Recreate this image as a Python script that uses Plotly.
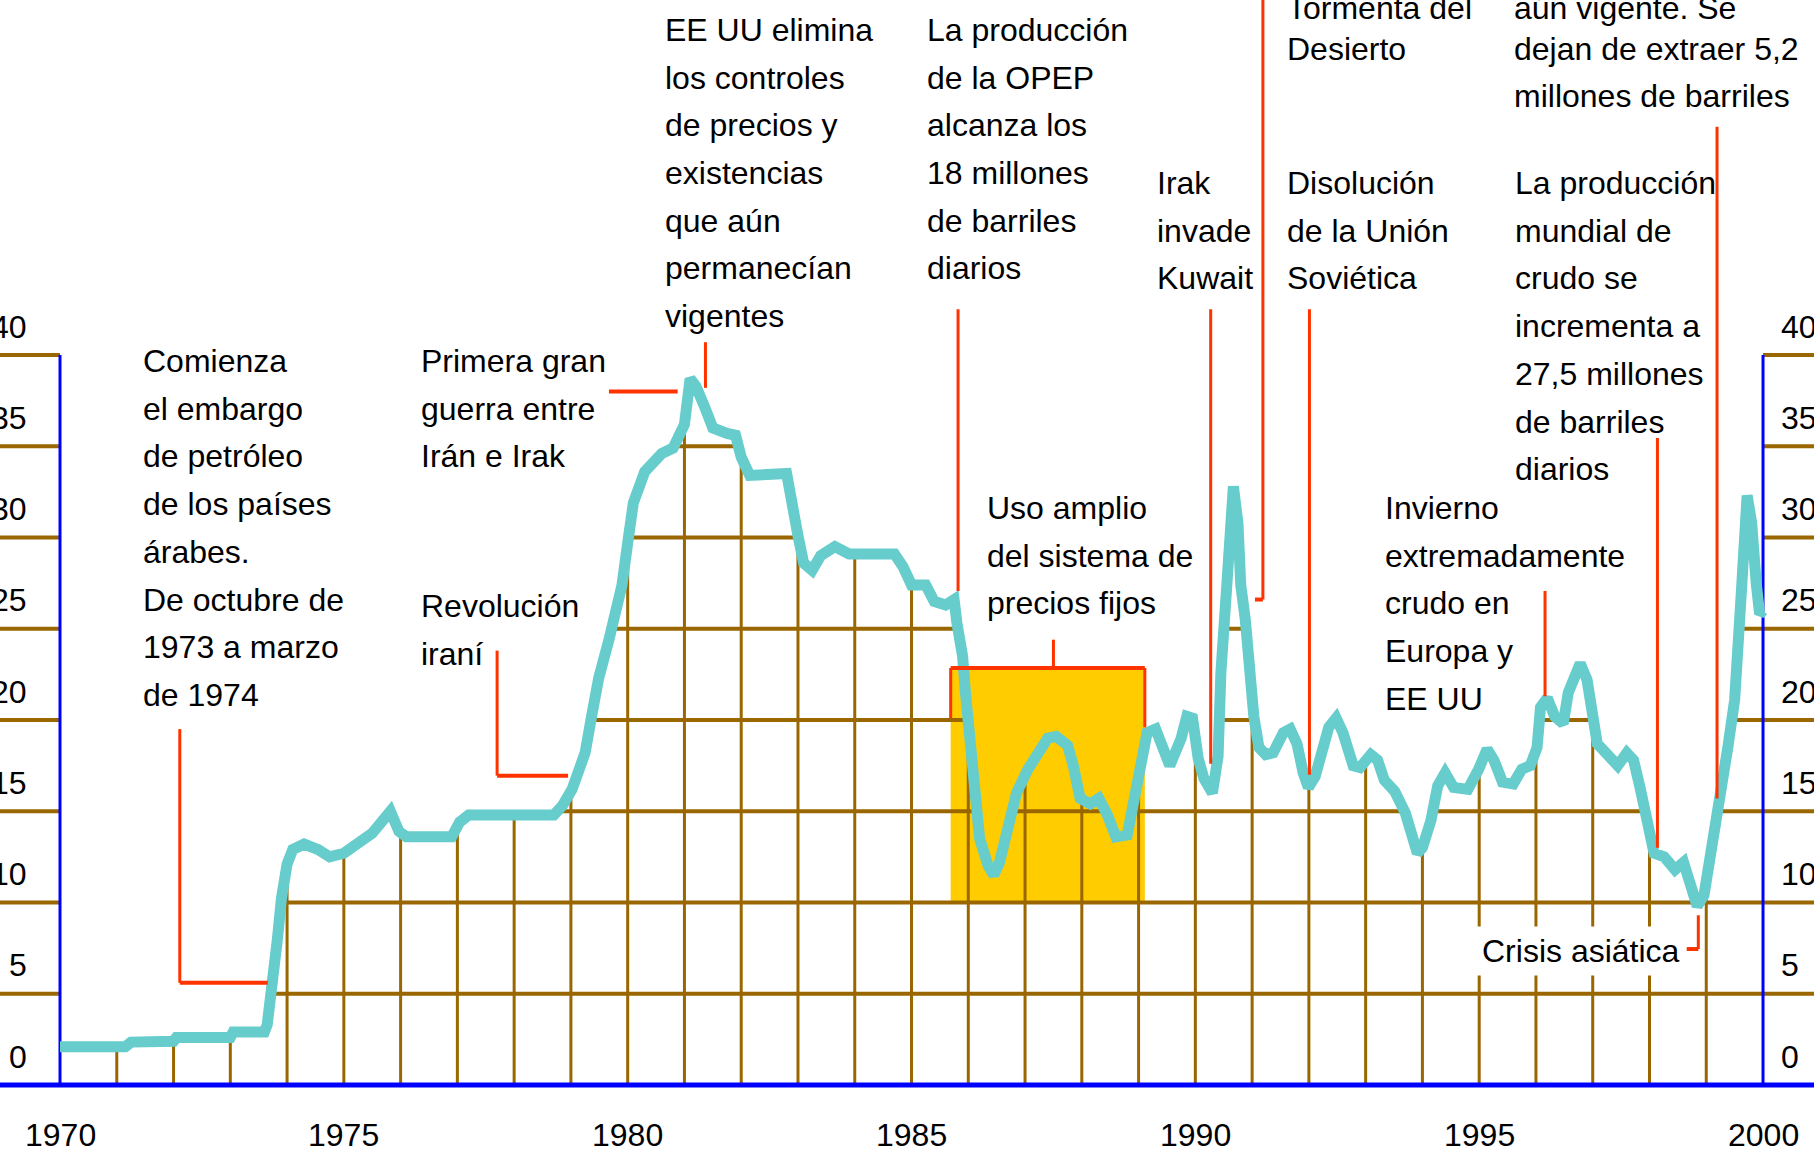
import numpy as np
import plotly.graph_objects as go

# ---------------- data ----------------
years = [1970.00, 1971.15, 1971.25, 1972.00, 1972.05, 1973.00, 1973.05, 1973.60, 1973.65, 1973.70,
         1973.75, 1973.83, 1973.90, 1974.00, 1974.10, 1974.30, 1974.55, 1974.75, 1975.00, 1975.26,
         1975.50, 1975.82, 1975.97, 1976.10, 1976.90, 1977.04, 1977.20, 1978.70, 1978.85, 1979.02,
         1979.25, 1979.37, 1979.49, 1979.67, 1979.90, 1980.00, 1980.10, 1980.30, 1980.60, 1980.80,
         1981.00, 1981.10, 1981.20, 1981.35, 1981.50, 1981.75, 1981.90, 1982.00, 1982.15, 1982.80,
         1982.90, 1983.00, 1983.10, 1983.25, 1983.40, 1983.65, 1983.90, 1984.70, 1984.85, 1985.00,
         1985.25, 1985.40, 1985.60, 1985.75, 1985.80, 1985.90, 1985.95, 1986.03, 1986.10, 1986.20,
         1986.35, 1986.45, 1986.55, 1986.70, 1986.85, 1987.05, 1987.20, 1987.40, 1987.55, 1987.75,
         1987.85, 1987.97, 1988.15, 1988.30, 1988.45, 1988.60, 1988.80, 1988.90, 1989.05, 1989.15,
         1989.30, 1989.45, 1989.55, 1989.75, 1989.85, 1989.95, 1990.05, 1990.15, 1990.30, 1990.40,
         1990.45, 1990.55, 1990.62, 1990.67, 1990.75, 1990.80, 1990.88, 1990.94, 1991.03, 1991.12,
         1991.24, 1991.37, 1991.55, 1991.67, 1991.79, 1991.90, 1991.99, 1992.11, 1992.23, 1992.35,
         1992.48, 1992.60, 1992.78, 1992.90, 1993.09, 1993.21, 1993.33, 1993.51, 1993.70, 1993.82,
         1993.91, 1994.00, 1994.15, 1994.27, 1994.40, 1994.55, 1994.80, 1994.99, 1995.14, 1995.26,
         1995.41, 1995.60, 1995.75, 1995.90, 1996.02, 1996.08, 1996.20, 1996.33, 1996.48, 1996.57,
         1996.69, 1996.78, 1996.90, 1997.00, 1997.08, 1997.23, 1997.44, 1997.60, 1997.72, 1997.84,
         1997.96, 1998.08, 1998.26, 1998.45, 1998.60, 1998.72, 1998.84, 1998.96, 1999.05, 1999.17,
         1999.26, 1999.38, 1999.50, 1999.56, 1999.62, 1999.72, 1999.80, 1999.88, 1999.94, 2000.00]
price = [2.1, 2.1, 2.35, 2.4, 2.6, 2.6, 2.9, 2.9, 3.3, 4.4,
         6.2, 8.0, 10.2, 12.1, 12.9, 13.2, 12.9, 12.5, 12.7, 13.2,
         13.8, 15.0, 13.9, 13.6, 13.6, 14.4, 14.8, 14.8, 15.3, 16.2,
         18.2, 20.3, 22.3, 24.4, 27.4, 29.7, 31.9, 33.6, 34.6, 34.9,
         36.2, 38.7, 38.3, 37.2, 36.0, 35.7, 35.6, 34.4, 33.4, 33.5,
         32.1, 30.1, 28.6, 28.2, 29.0, 29.5, 29.1, 29.1, 28.4, 27.4,
         27.4, 26.5, 26.3, 26.6, 25.3, 23.5, 21.5, 19.0, 16.0, 13.5,
         12.0, 11.5, 12.2, 14.0, 16.0, 17.3, 18.0, 19.0, 19.1, 18.6,
         17.5, 15.7, 15.4, 15.7, 14.8, 13.6, 13.7, 15.3, 17.9, 19.3,
         19.5, 18.0, 17.5, 19.0, 20.2, 20.1, 17.9, 16.8, 16.0, 18.0,
         22.6, 27.2, 31.9, 32.8, 30.8, 27.4, 25.5, 22.5, 20.2, 18.5,
         18.1, 18.2, 19.3, 19.5, 18.7, 17.1, 16.3, 16.9, 18.5, 19.6,
         20.1, 19.3, 17.5, 17.4, 18.1, 17.8, 16.7, 16.1, 14.9, 13.5,
         12.7, 13.0, 14.5, 16.4, 17.1, 16.3, 16.2, 17.3, 18.4, 17.8,
         16.6, 16.5, 17.3, 17.5, 18.5, 20.7, 21.2, 20.2, 19.8, 21.5,
         22.7, 23.1, 22.2, 20.5, 18.7, 18.2, 17.5, 18.2, 17.8, 16.2,
         14.4, 12.7, 12.5, 11.8, 12.2, 11.1, 9.8, 10.4, 12.0, 14.4,
         16.2, 18.5, 21.1, 23.5, 27.1, 32.3, 30.8, 27.5, 25.8, 26.0]

y_levels = [5, 10, 15, 20, 25, 30, 35, 40]
y_tick_values = [0, 5, 10, 15, 20, 25, 30, 35, 40]
y_tick_labels = ["0", "5", "10", "15", "20", "25", "30", "35", "40"]
x_tick_years = [1970, 1975, 1980, 1985, 1990, 1995, 2000]
x_tick_labels = ["1970", "1975", "1980", "1985", "1990", "1995", "2000"]
grid_years = list(range(1971, 2000))

txt_embargo = ["Comienza", "el embargo", "de petróleo", "de los países", "árabes.",
               "De octubre de", "1973 a marzo", "de 1974"]
txt_guerra = ["Primera gran", "guerra entre", "Irán e Irak"]
txt_revolucion = ["Revolución", "iraní"]
txt_eeuu = ["EE UU elimina", "los controles", "de precios y", "existencias", "que aún",
            "permanecían", "vigentes"]
txt_opep = ["La producción", "de la OPEP", "alcanza los", "18 millones", "de barriles", "diarios"]
txt_uso = ["Uso amplio", "del sistema de", "precios fijos"]
txt_irak = ["Irak", "invade", "Kuwait"]
txt_tormenta = ["Tormenta del", "Desierto"]
txt_disolucion = ["Disolución", "de la Unión", "Soviética"]
txt_vigente = ["aún vigente. Se", "dejan de extraer 5,2", "millones de barriles"]
txt_mundial = ["La producción", "mundial de", "crudo se", "incrementa a", "27,5 millones",
               "de barriles", "diarios"]
txt_invierno = ["Invierno", "extremadamente", "crudo en", "Europa y", "EE UU"]
txt_crisis = "Crisis asiática"

# ---------------- style ----------------
W, H = 1814, 1153
X0, X1 = 1968.943, 2000.898
Y0, Y1 = -3.726, 59.45
BROWN = "#996600"
BLUE = "#0000FF"
RED = "#FF3300"
CYAN = "#66CCCC"
YELLOW = "#FFCC00"
FONT = "Liberation Sans, Arial, sans-serif"
FS = 32
STEP = 2.614  # line step in value units

fig = go.Figure()

# yellow fixed-price box
fig.add_shape(type="rect", x0=1985.69, x1=1989.11, y0=10, y1=22.85,
              fillcolor=YELLOW, line_width=0, layer="below")

# grid drawn only under the curve
xs_d = np.linspace(years[0], years[-1], 6001)
ys_d = np.interp(xs_d, years, price)
hx, hy = [], []
for L in y_levels:
    above = ys_d > L
    n = len(xs_d)
    i = 0
    while i < n:
        if above[i]:
            j = i
            while j < n and above[j]:
                j += 1
            hx += [xs_d[i], xs_d[j - 1], None]
            hy += [L, L, None]
            i = j
        else:
            i += 1
# tick stubs outside the frame
for L in y_levels:
    hx += [X0 - 0.2, 1970, None, 2000, X1 + 0.2, None]
    hy += [L, L, None, L, L, None]
fig.add_trace(go.Scatter(x=hx, y=hy, mode="lines", line=dict(color=BROWN, width=4),
                         hoverinfo="skip"))

vx, vy = [], []
for k in grid_years:
    vx += [k, k, None]
    vy += [0, float(np.interp(k, years, price)), None]
fig.add_trace(go.Scatter(x=vx, y=vy, mode="lines", line=dict(color=BROWN, width=3),
                         hoverinfo="skip"))

# blue frame
fig.add_trace(go.Scatter(x=[1970, 1970, None, 2000, 2000], y=[0, 40, None, 0, 40],
                         mode="lines", line=dict(color=BLUE, width=3), hoverinfo="skip"))
fig.add_trace(go.Scatter(x=[X0 - 0.2, X1 + 0.2], y=[0, 0], mode="lines",
                         line=dict(color=BLUE, width=5), hoverinfo="skip"))

# price curve
fig.add_trace(go.Scatter(x=years, y=price, mode="lines",
                         line=dict(color=CYAN, width=11), name="Precio"))

# callout lines
callouts = [
    [(1972.11, 19.5), (1972.11, 5.6), (1973.66, 5.6)],
    [(1979.67, 38.0), (1980.88, 38.0)],
    [(1977.70, 23.8), (1977.70, 16.95), (1978.95, 16.95)],
    [(1981.37, 40.7), (1981.37, 38.2)],
    [(1985.82, 42.5), (1985.82, 27.07)],
    [(1987.50, 24.4), (1987.50, 22.85)],
    [(1985.69, 20.1), (1985.69, 22.85), (1989.11, 22.85), (1989.11, 19.6)],
    [(1990.27, 42.5), (1990.27, 17.6)],
    [(1991.19, 60.0), (1991.19, 26.6), (1991.05, 26.6)],
    [(1992.01, 42.5), (1992.01, 17.0)],
    [(1999.19, 52.5), (1999.19, 15.7)],
    [(1998.14, 35.45), (1998.14, 13.0)],
    [(1996.16, 27.07), (1996.16, 21.3)],
    [(1998.86, 9.3), (1998.86, 7.45), (1998.65, 7.45)],
]
for pts in callouts:
    for (ax, ay), (bx, by) in zip(pts[:-1], pts[1:]):
        w = 4 if ay == by else 3
        fig.add_shape(type="line", x0=ax, y0=ay, x1=bx, y1=by, xref="x", yref="y",
                      line=dict(color=RED, width=w), layer="above")

# text blocks: (lines, left year, value of first line centre)
blocks = [
    (txt_embargo, 1971.43, 39.67),
    (txt_guerra, 1976.33, 39.67),
    (txt_revolucion, 1976.33, 26.25),
    (txt_eeuu, 1980.62, 57.81),
    (txt_opep, 1985.24, 57.81),
    (txt_uso, 1986.29, 31.62),
    (txt_irak, 1989.29, 49.42),
    (txt_tormenta, 1991.58, 59.40),
    (txt_disolucion, 1991.58, 49.42),
    (txt_vigente, 1995.57, 59.40),
    (txt_mundial, 1995.60, 49.42),
    (txt_invierno, 1993.30, 31.62),
]
for lines, bx, by in blocks:
    for i, t in enumerate(lines):
        yc = by - i * STEP
        if yc > Y1 - 0.5:
            # first line partly above the top edge (as in the original crop)
            fig.add_annotation(x=bx, y=57.9, text=t, showarrow=False,
                               xanchor="left", yanchor="bottom",
                               font=dict(family=FONT, size=FS, color="black"))
        else:
            fig.add_annotation(x=bx, y=yc, text=t, showarrow=False,
                               xanchor="left", yanchor="middle",
                               font=dict(family=FONT, size=FS, color="black"))

fig.add_annotation(x=1994.93, y=7.35, text=txt_crisis, showarrow=False,
                   xanchor="left", yanchor="middle", bgcolor="white", borderpad=6,
                   font=dict(family=FONT, size=FS, color="black"))

# tick labels
for v, t in zip(y_tick_values, y_tick_labels):
    fig.add_annotation(x=1969.454, y=v + 1.55, text=t, showarrow=False,
                       xanchor="right", yanchor="middle",
                       font=dict(family=FONT, size=FS, color="black"))
    fig.add_annotation(x=2000.29, y=v + 1.55, text=t, showarrow=False,
                       xanchor="left", yanchor="middle",
                       font=dict(family=FONT, size=FS, color="black"))
for v, t in zip(x_tick_years, x_tick_labels):
    fig.add_annotation(x=v, y=-2.74, text=t, showarrow=False,
                       xanchor="center", yanchor="middle",
                       font=dict(family=FONT, size=FS, color="black"))

fig.update_layout(
    width=W, height=H, margin=dict(l=0, r=0, t=0, b=0),
    paper_bgcolor="white", plot_bgcolor="white", showlegend=False,
    xaxis=dict(range=[X0, X1], visible=False, fixedrange=True),
    yaxis=dict(range=[Y0, Y1], visible=False, fixedrange=True),
)
fig.write_html("out.html",
               config={"displayModeBar": False, "staticPlot": True},
               post_script="document.body.style.margin='0px';document.body.style.overflow='hidden';")
